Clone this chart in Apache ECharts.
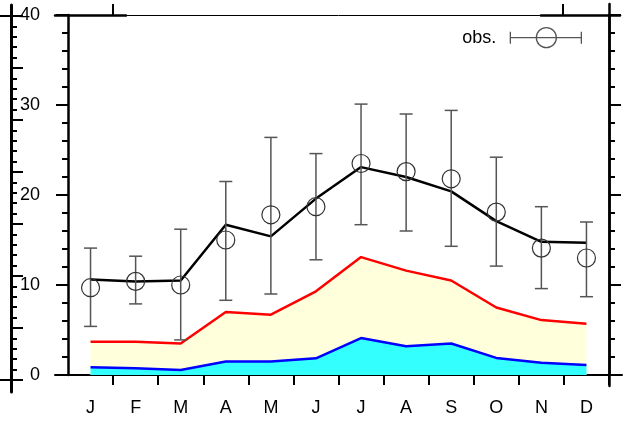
<!DOCTYPE html>
<html><head><meta charset="utf-8">
<script src="https://cdn.jsdelivr.net/npm/echarts@6/dist/echarts.min.js"></script>
<style>html,body{margin:0;padding:0;background:#fff}#c{width:623px;height:424px}</style>
</head><body><div id="c"></div>
<script>
const months = ['J','F','M','A','M','J','J','A','S','O','N','D'];
const yMin = 0, yMax = 40, yStep = 10;
const modelMean = [10.6,10.4,10.5,16.7,15.4,19.6,23.1,22.0,20.4,17.1,14.8,14.7];
const obsMean = [9.7,10.4,10.0,15.0,17.8,18.7,23.5,22.6,21.8,18.1,14.1,13.0];
const obsLow = [5.4,7.9,3.9,8.3,9.0,12.8,16.7,16.0,14.3,12.1,9.6,8.7];
const obsHigh = [14.1,13.2,16.2,21.5,26.4,24.6,30.1,29.0,29.4,24.2,18.7,17.0];
const upperBand = [3.7,3.7,3.5,7.0,6.7,9.3,13.1,11.6,10.5,7.5,6.1,5.7];
const lowerBand = [0.85,0.75,0.55,1.5,1.5,1.85,4.1,3.2,3.5,1.9,1.35,1.1];

const FONT = 'Liberation Sans';
const obsData = months.map((m, i) => [i, obsMean[i], obsLow[i], obsHigh[i]]);
const hidden = {show:false};
const blackLine = w => ({show:true, onZero:false, lineStyle:{color:'#000', width:w}});

const chart = echarts.init(document.getElementById('c'), null, {renderer:'canvas'});
chart.setOption({
  animation:false,
  backgroundColor:'#fff',
  textStyle:{fontFamily:FONT},
  grid:[
    {left:68, right:14, top:15, bottom:49},            // main
    {left:55, width:71, top:15, height:10},            // top-left thick segment
    {left:541, width:79, top:15, height:10},           // top-right thick segment
    {left:55, right:1, bottom:49, height:10},          // bottom line extension
    {left:560, right:14, top:4, bottom:38},            // right axis extension
    {left:11, width:10, top:5, bottom:32},             // strip axis line
    {left:11, width:10, top:16, bottom:44}             // strip ticks
  ],
  legend:{
    right:41, top:27, padding:0, align:'right',
    itemWidth:71, itemHeight:20,
    data:[{name:'obs.', icon:'path://M0,10L71,10M0,4L0,16M71,4L71,16M46,10A10,10,0,1,1,26,10A10,10,0,1,1,46,10'}],
    itemStyle:{color:'rgba(0,0,0,0)', borderColor:'#555', borderWidth:1.3},
    textStyle:{fontSize:18, color:'#000', fontFamily:FONT, padding:[0,9,0,0]}
  },
  xAxis:[
    {type:'category', gridIndex:0, position:'bottom', data:months, boundaryGap:true,
     axisLine:blackLine(2),
     axisTick:{show:true, length:10, interval:function(i){return i !== 0;}, lineStyle:{color:'#000', width:2}},
     axisLabel:{fontSize:18, color:'#000', margin:24, fontFamily:FONT, interval:0},
     splitLine:hidden},
    {type:'category', gridIndex:0, position:'top', data:months, boundaryGap:true,
     axisLine:blackLine(1), axisTick:hidden, axisLabel:hidden, splitLine:hidden},
    {type:'value', gridIndex:1, position:'top', min:0, max:71,
     axisLine:blackLine(2.5),
     axisTick:{show:true, customValues:[58], length:11, lineStyle:{color:'#000', width:2}},
     axisLabel:hidden, splitLine:hidden},
    {type:'value', gridIndex:2, position:'top', min:0, max:79,
     axisLine:blackLine(2.5),
     axisTick:{show:true, customValues:[22], length:11, lineStyle:{color:'#000', width:2}},
     axisLabel:hidden, splitLine:hidden},
    {type:'value', gridIndex:3, position:'bottom', min:0, max:1,
     axisLine:blackLine(2), axisTick:hidden, axisLabel:hidden, splitLine:hidden},
    {type:'value', gridIndex:4, show:false},
    {type:'value', gridIndex:5, show:false},
    {type:'value', gridIndex:6, show:false}
  ],
  yAxis:[
    {type:'value', gridIndex:0, position:'left', min:yMin, max:yMax, interval:yStep,
     axisLine:blackLine(2.5),
     axisTick:{show:true, length:12, lineStyle:{color:'#000', width:2}},
     minorTick:{show:true, splitNumber:5, length:6, lineStyle:{color:'#000', width:2}},
     axisLabel:{fontSize:18, color:'#000', margin:28, fontFamily:FONT},
     splitLine:hidden, minorSplitLine:hidden},
    {type:'value', gridIndex:0, position:'right', min:yMin, max:yMax, interval:yStep,
     axisLine:blackLine(2.5),
     axisTick:{show:true, length:12, lineStyle:{color:'#000', width:2}},
     minorTick:{show:true, splitNumber:5, length:6, lineStyle:{color:'#000', width:2}},
     axisLabel:hidden, splitLine:hidden, minorSplitLine:hidden},
    {type:'value', gridIndex:1, show:false},
    {type:'value', gridIndex:2, show:false},
    {type:'value', gridIndex:3, show:false},
    {type:'value', gridIndex:4, position:'right', min:0, max:1,
     axisLine:blackLine(2.5), axisTick:hidden, axisLabel:hidden, splitLine:hidden},
    {type:'value', gridIndex:5, position:'left', min:0, max:1,
     axisLine:blackLine(3), axisTick:hidden, axisLabel:hidden, splitLine:hidden},
    {type:'value', gridIndex:6, position:'left', min:0, max:7, interval:1,
     axisLine:{show:false, onZero:false},
     axisTick:{show:true, inside:true, length:12, lineStyle:{color:'#000', width:2}},
     minorTick:{show:true, splitNumber:5, length:6, lineStyle:{color:'#000', width:2}},
     axisLabel:hidden, splitLine:hidden, minorSplitLine:hidden},
    {type:'value', gridIndex:6, position:'left', min:0, max:7, interval:7,
     axisLine:{show:false, onZero:false},
     axisTick:{show:true, inside:false, length:11, lineStyle:{color:'#000', width:2}},
     axisLabel:hidden, splitLine:hidden}
  ],
  series:[
    {name:'upper', type:'line', xAxisIndex:0, yAxisIndex:0, data:upperBand, symbol:'none',
     lineStyle:{color:'#ff0000', width:2.5}, itemStyle:{color:'#ff0000'},
     areaStyle:{color:'#ffffdc', opacity:1}, z:2},
    {name:'lower', type:'line', xAxisIndex:0, yAxisIndex:0, data:lowerBand, symbol:'none',
     lineStyle:{color:'#0000ff', width:2.5}, itemStyle:{color:'#0000ff'},
     areaStyle:{color:'#33ffff', opacity:1}, z:3},
    {name:'model', type:'line', xAxisIndex:0, yAxisIndex:0, data:modelMean, symbol:'none',
     lineStyle:{color:'#000', width:2.5}, itemStyle:{color:'#000'}, z:4},
    {name:'obs.', type:'custom', xAxisIndex:0, yAxisIndex:0, data:obsData, z:5,
     itemStyle:{color:'#555'},
     renderItem:function(params, api){
       const x = api.value(0);
       const c = api.coord([x, api.value(1)]);
       const lo = api.coord([x, api.value(2)]);
       const hi = api.coord([x, api.value(3)]);
       const w = 6.5;
       const st = {stroke:'#555', lineWidth:1.5};
       return {type:'group', children:[
         {type:'line', shape:{x1:c[0], y1:hi[1], x2:c[0], y2:lo[1]}, style:st},
         {type:'line', shape:{x1:c[0]-w, y1:hi[1], x2:c[0]+w, y2:hi[1]}, style:st},
         {type:'line', shape:{x1:c[0]-w, y1:lo[1], x2:c[0]+w, y2:lo[1]}, style:st},
         {type:'circle', shape:{cx:c[0], cy:c[1], r:9}, style:{fill:'none', stroke:'#333', lineWidth:1.2}}
       ]};
     }}
  ]
});
</script></body></html>
